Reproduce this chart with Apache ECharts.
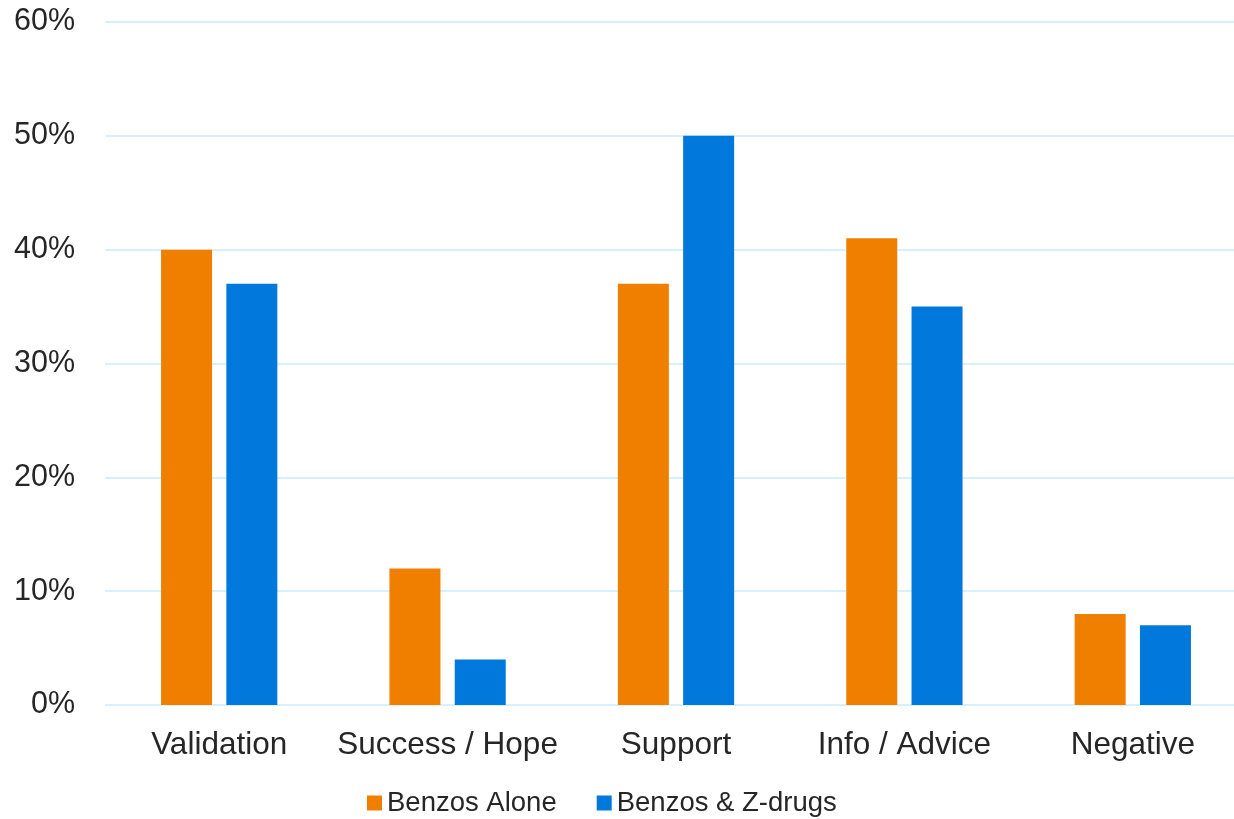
<!DOCTYPE html>
<html>
<head>
<meta charset="utf-8">
<script src="https://cdn.jsdelivr.net/npm/echarts@6/dist/echarts.min.js"></script>
<style>html,body{margin:0;padding:0;background:#fff;overflow:hidden}#c{width:1250px;height:819px}</style>
</head>
<body>
<div id="c"></div>
<script>
const categories = ['Validation', 'Success / Hope', 'Support', 'Info / Advice', 'Negative'];
const benzosAlone = [40, 12, 37, 41, 8];
const benzosZdrugs = [37, 4, 50, 35, 7];
const seriesNames = ['Benzos Alone', 'Benzos & Z-drugs'];
const yTicks = [0, 10, 20, 30, 40, 50, 60];

const chart = echarts.init(document.getElementById('c'), null, {renderer: 'canvas'});
const font = 'Liberation Sans, Arial, sans-serif';
chart.setOption({
  animation: false,
  grid: {left: 105, top: 22, width: 1142, height: 683, containLabel: false},
  legend: {
    data: seriesNames,
    left: 362, top: 784,
    itemWidth: 15, itemHeight: 15, itemGap: 40,
    icon: 'rect',
    textStyle: {fontFamily: font, fontSize: 27.5, color: '#262626'}
  },
  xAxis: {
    type: 'category',
    data: categories,
    axisLine: {show: false},
    axisTick: {show: false},
    axisLabel: {interval: 0, fontFamily: font, fontSize: 31.5, color: '#262626', margin: 24}
  },
  yAxis: {
    type: 'value',
    min: yTicks[0], max: yTicks[yTicks.length - 1], interval: 10,
    axisLine: {show: false},
    axisTick: {show: false},
    splitLine: {lineStyle: {color: '#d6f1fb', width: 2}},
    axisLabel: {fontFamily: font, fontSize: 30.5, color: '#262626', margin: 30, padding: [3, 0, 0, 0], formatter: '{value}%'}
  },
  series: [
    {name: seriesNames[0], type: 'bar', data: benzosAlone, barWidth: 51, barGap: '28%',
     itemStyle: {color: '#f07f00'}},
    {name: seriesNames[1], type: 'bar', data: benzosZdrugs, barWidth: 51,
     itemStyle: {color: '#0078dc'}}
  ]
});
</script>
</body>
</html>
